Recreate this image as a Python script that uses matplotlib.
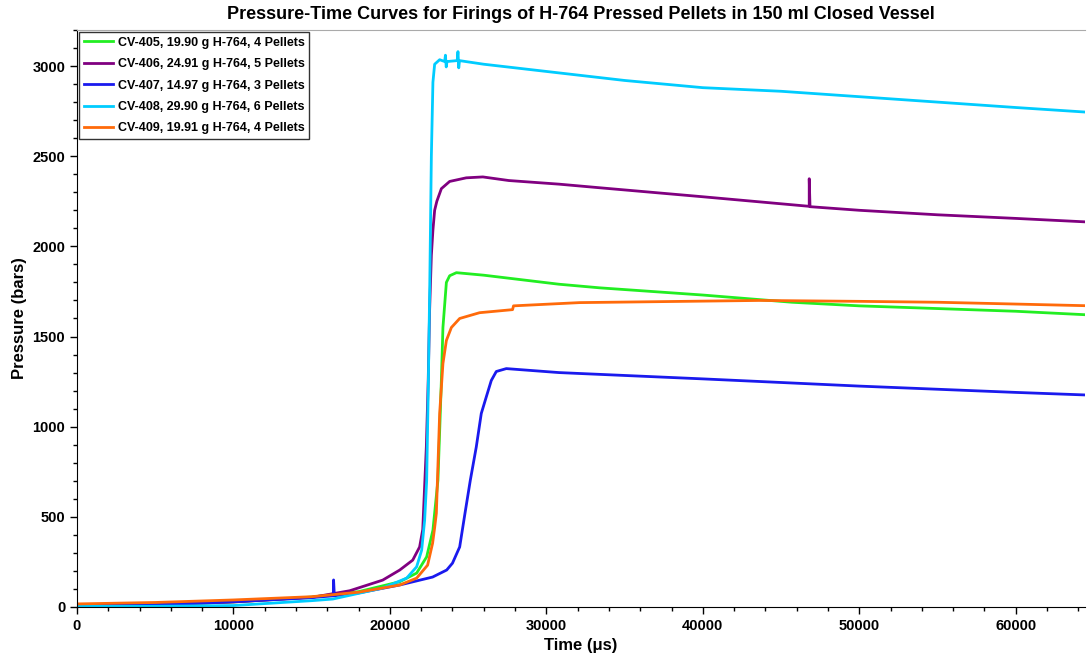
import matplotlib.pyplot as plt
from matplotlib.ticker import MultipleLocator

plt.rcParams["font.family"] = ["Liberation Sans", "DejaVu Sans"]
plt.rcParams["font.weight"] = "bold"

# CV-405, green
t_405 = [0, 5000, 10000, 15000, 18000, 20630, 21710, 22350, 22750, 23070, 23190,
         23290, 23390, 23610, 23820, 24250, 26000, 30800, 33400, 40000, 45700,
         50000, 55000, 60000, 64400]
p_405 = [8, 12, 28, 55, 85, 140, 188, 278, 426, 703, 1000,
         1256, 1550, 1800, 1837, 1854, 1840, 1790, 1770, 1730, 1690,
         1670, 1655, 1640, 1621]

# CV-406, purple (spike near 46800)
t_406 = [0, 5000, 10000, 15000, 17430, 19540, 20630, 21460, 21900, 22100, 22330,
         22450, 22540, 22650, 22750, 22860, 23000, 23290, 23820, 24880, 25940,
         27600, 30800, 33400, 40000, 46800, 46800, 46850, 50000, 55000, 60000, 64400]
p_406 = [8, 12, 28, 53, 90, 149, 205, 260, 333, 430, 890,
         1260, 1650, 1950, 2090, 2200, 2250, 2320, 2360, 2380, 2385,
         2365, 2345, 2325, 2275, 2222, 2375, 2220, 2200, 2175, 2155, 2136]

# CV-407, blue (spike near 16400)
t_407 = [0, 5000, 10000, 15000, 16400, 16400, 16450, 18000, 20630, 22730, 23630,
         24000, 24460, 24800, 25140, 25520, 25840, 26160, 26480, 26800, 27440,
         30800, 32100, 40000, 50000, 60000, 64400]
p_407 = [8, 12, 29, 52, 62, 150, 62, 78, 122, 166, 205,
         243, 333, 520, 703, 887, 1073, 1165, 1256, 1306, 1322,
         1300, 1295, 1265, 1225, 1190, 1176]

# CV-408, cyan (small spikes around 23600-24400)
t_408 = [0, 5000, 10000, 15000, 16350, 19540, 21070, 21710, 22030, 22220, 22350,
         22450, 22550, 22650, 22750, 22860, 23180, 23500, 23550, 23600, 23650,
         24300, 24350, 24400, 24450, 26000, 30000, 35000, 40000, 45000, 50000,
         55000, 60000, 64400]
p_408 = [3, 4, 8, 35, 44, 105, 160, 223, 315, 481, 700,
         1200, 1800, 2500, 2910, 3010, 3035, 3025, 3060, 2995, 3025,
         3030, 3080, 2990, 3030, 3010, 2970, 2920, 2880, 2860, 2830,
         2800, 2770, 2745]

# CV-409, orange (step near 27900)
t_409 = [0, 5000, 10000, 15000, 18000, 20630, 21710, 22410, 22730, 22860, 22970,
         23180, 23390, 23610, 23930, 24460, 25730, 27840, 27900, 32120, 43600,
         50000, 55000, 60000, 64400]
p_409 = [17, 25, 39, 57, 82, 122, 160, 232, 354, 440, 520,
         1073, 1350, 1478, 1550, 1600, 1632, 1649, 1670, 1688, 1700,
         1695, 1690, 1680, 1671]

series = [
    (t_405, p_405, "#22ee22", "CV-405, 19.90 g H-764, 4 Pellets"),
    (t_406, p_406, "#800080", "CV-406, 24.91 g H-764, 5 Pellets"),
    (t_407, p_407, "#1a1aee", "CV-407, 14.97 g H-764, 3 Pellets"),
    (t_408, p_408, "#00ccff", "CV-408, 29.90 g H-764, 6 Pellets"),
    (t_409, p_409, "#ff6a0a", "CV-409, 19.91 g H-764, 4 Pellets"),
]

fig = plt.figure(figsize=(10.87, 6.69), dpi=100)
ax = fig.add_axes([0.0708, 0.0927, 0.927, 0.8625])

for t, p, color, label in series:
    ax.plot(t, p, color=color, lw=2.0, label=label)

ax.set_xlim(0, 64400)
ax.set_ylim(0, 3200)
ax.xaxis.set_major_locator(MultipleLocator(10000))
ax.xaxis.set_minor_locator(MultipleLocator(2000))
ax.yaxis.set_major_locator(MultipleLocator(500))
ax.yaxis.set_minor_locator(MultipleLocator(100))
ax.tick_params(which="major", length=5, width=1, labelsize=10.5)
ax.tick_params(which="minor", length=3, width=1)

ax.spines["right"].set_visible(False)
ax.spines["top"].set_color("#aaaaaa")

ax.set_xlabel("Time (\u03bcs)", fontsize=12, fontweight="bold")
ax.set_ylabel("Pressure (bars)", fontsize=12, fontweight="bold")
ax.set_title("Pressure-Time Curves for Firings of H-764 Pressed Pellets in 150 ml Closed Vessel",
             fontsize=13, fontweight="bold", pad=8)

leg = ax.legend(loc="upper left", fontsize=9, frameon=True, fancybox=False,
                edgecolor="black", handlelength=2.3, handletextpad=0.45,
                borderaxespad=0.2, labelspacing=0.75, borderpad=0.35)
leg.get_frame().set_linewidth(1.0)

fig.savefig("out.png", dpi=100)
